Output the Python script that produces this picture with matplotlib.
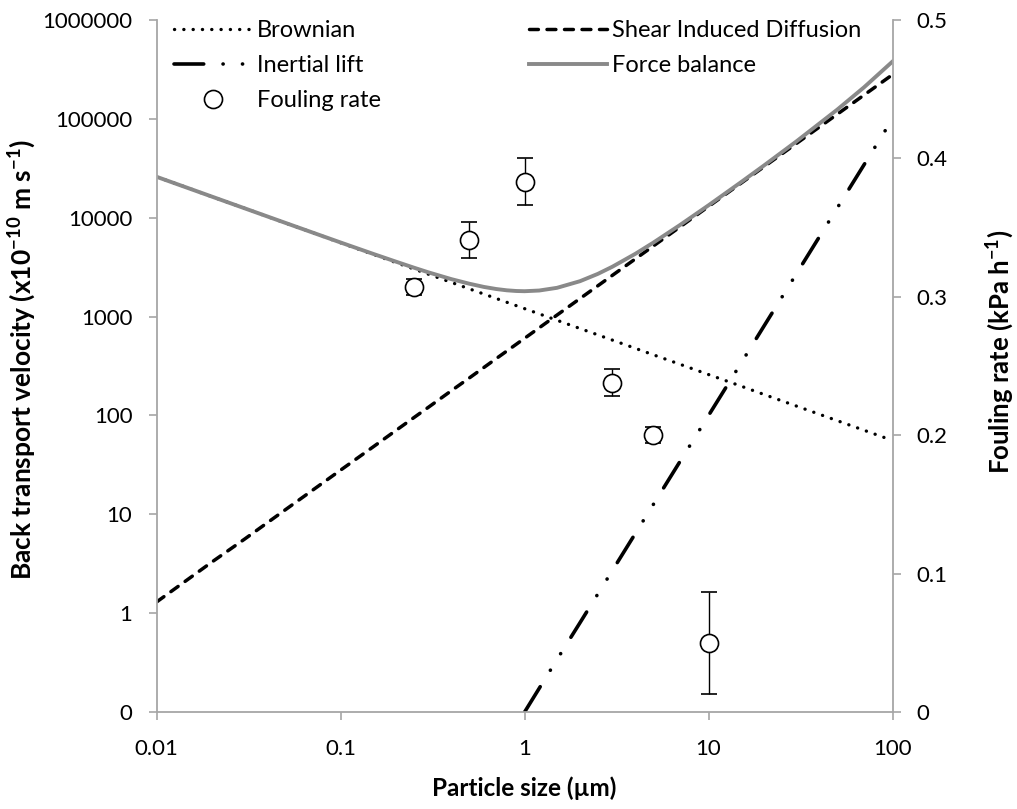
import matplotlib.pyplot as plt
from matplotlib.lines import Line2D
from matplotlib.ticker import NullLocator

plt.rcParams['font.family'] = ['Lato', 'DejaVu Sans']
plt.rcParams['lines.scale_dashes'] = False
plt.rcParams['mathtext.fontset'] = 'custom'
plt.rcParams['mathtext.rm'] = 'Lato'
plt.rcParams['mathtext.bf'] = 'Lato:bold'

# particle size (um) and back transport velocities (x1e-10 m/s)
size = [0.01, 0.02, 0.03, 0.05, 0.07, 0.1, 0.15, 0.2, 0.25, 0.3, 0.4, 0.5,
        0.6, 0.7, 0.8, 0.9, 1, 1.2, 1.5, 2, 2.5, 3, 4, 5, 7, 10, 15, 20,
        30, 50, 70, 100]
brownian = [25900, 16320, 12450, 8860, 7080, 5580, 4260, 3515, 3029, 2683,
            2214, 1908, 1690, 1525, 1395, 1290, 1202, 1065, 917, 757, 653,
            578, 477, 411, 329, 259, 198, 163, 124.5, 88.6, 70.8, 55.8]
shear = [1.3, 3.3, 5.6, 11.1, 17.4, 28, 48, 70.6, 95, 121, 178, 239, 305,
         375, 448, 524, 603, 769, 1036, 1521, 2047, 2612, 3831, 5160, 8080,
         13000, 22320, 32760, 56250, 111150, 174100, 280000]
force_balance = [25900, 16320, 12460, 8870, 7100, 5610, 4310, 3590, 3124,
                 2800, 2390, 2150, 1995, 1900, 1843, 1814, 1805, 1834, 1953,
                 2279, 2702, 3193, 4314, 5583, 8443, 13359, 22855, 33723,
                 59075, 123739, 208470, 380056]
lift_size = [1, 1.5, 2, 3, 4, 5, 7, 10, 15, 20, 30, 50, 70, 100]
lift = [0.1, 0.34, 0.8, 2.7, 6.4, 12.5, 34.3, 100, 337, 800, 2700, 12500,
        34300, 100000]

# measured fouling rate (kPa/h)
fouling_size = [0.25, 0.5, 1, 3, 5, 10]
fouling_rate = [0.307, 0.341, 0.383, 0.238, 0.200, 0.050]
fouling_err = [0.006, 0.013, 0.017, 0.010, 0.006, 0.037]

x_ticks = [0.01, 0.1, 1, 10, 100]
x_labels = ['0.01', '0.1', '1', '10', '100']
y_ticks = [0.1, 1, 10, 100, 1000, 10000, 100000, 1000000]
y_labels = ['0', '1', '10', '100', '1000', '10000', '100000', '1000000']
y2_ticks = [0, 0.1, 0.2, 0.3, 0.4, 0.5]
y2_labels = ['0', '0.1', '0.2', '0.3', '0.4', '0.5']

axis_grey = '#a6a6a6'

fig = plt.figure(figsize=(10.17, 8.09), dpi=100)
ax = fig.add_axes([0.1541, 0.1199, 0.7235, 0.8554])
ax.set_xscale('log')
ax.set_yscale('log')

b, = ax.plot(size, brownian, color='black', lw=2.4,
             linestyle=(0, (0.1, 6.6)), dash_capstyle='round')
s, = ax.plot(size, shear, color='black', lw=2.5,
             linestyle=(0, (6.4, 6.2)), dash_capstyle='round')
l, = ax.plot(lift_size, lift, color='black', lw=2.6,
             linestyle=(0, (21.4, 13.9, 0.1, 13.9, 0.1, 13.9)),
             dash_capstyle='round')
f, = ax.plot(size, force_balance, color='#898989', lw=2.8)

ax.set_xlim(0.01, 100)
ax.set_ylim(0.1, 1e6)
ax.set_xticks(x_ticks)
ax.set_xticklabels(x_labels)
ax.set_yticks(y_ticks)
ax.set_yticklabels(y_labels)
ax.xaxis.set_minor_locator(NullLocator())
ax.yaxis.set_minor_locator(NullLocator())

ax2 = ax.twinx()
ax2.errorbar(fouling_size, fouling_rate, yerr=fouling_err, fmt='o', ms=13,
             mfc='white', mec='black', mew=1.2, ecolor='black',
             elinewidth=1, capsize=6, capthick=1)
ax2.set_ylim(0, 0.5)
ax2.set_yticks(y2_ticks)
ax2.set_yticklabels(y2_labels)

for a in (ax, ax2):
    a.spines['top'].set_visible(False)
    for sp in a.spines.values():
        sp.set_color(axis_grey)
        sp.set_linewidth(1.3)
    a.tick_params(which='both', direction='out', length=6, width=1.2,
                  color=axis_grey, labelsize=16, labelcolor='black', pad=11.5)
ax.tick_params(axis='x', pad=13.5)
ax.spines['right'].set_visible(False)
ax2.spines['left'].set_visible(False)
ax2.spines['bottom'].set_visible(False)

fig.text(0.5 * (156.7 + 892.5) / 1017, 1 - 788 / 809, 'Particle size (µm)',
         ha='center', va='center', fontsize=17.5, fontweight='bold')
fig.text(22 / 1017, 1 - 360 / 809,
         r'Back transport velocity (x10$^{\mathbf{-10}}$ m s$^{\mathbf{-1}}$)',
         ha='center', va='center', rotation=90, fontsize=19,
         fontweight='bold')
fig.text(1000 / 1017, 1 - 352 / 809, r'Fouling rate (kPa h$^{\mathbf{-1}}$)',
         ha='center', va='center', rotation=90, fontsize=18.5,
         fontweight='bold')

circ = Line2D([], [], ls='none', marker='o', ms=13, mfc='white',
              mec='black', mew=1.2)
leg = ax2.legend([b, l, circ, s, f],
                 ['Brownian', 'Inertial lift', 'Fouling rate',
                  'Shear Induced Diffusion', 'Force balance'],
                 ncol=2, loc='upper left', frameon=False,
                 bbox_to_anchor=(174 / 1017, 1 - 20 / 809),
                 bbox_transform=fig.transFigure, borderpad=0,
                 borderaxespad=0, fontsize=17, handlelength=3.3,
                 handletextpad=0.2, labelspacing=0.6, columnspacing=6.3)

fig.savefig('out.png', dpi=100)
